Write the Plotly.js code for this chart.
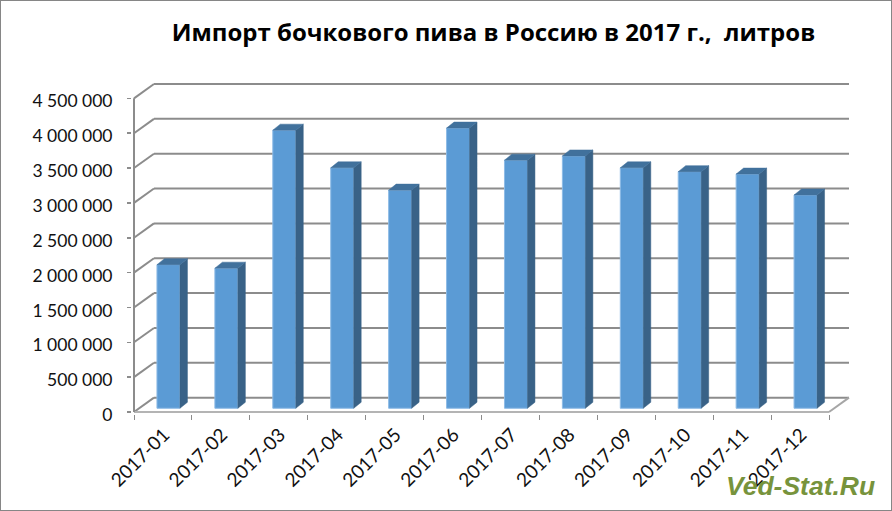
<!DOCTYPE html>
<html><head><meta charset="utf-8">
<script src="https://cdn.plot.ly/plotly-3.0.1.min.js"></script>
<style>html,body{margin:0;padding:0;background:#fff}#c{width:892px;height:511px;position:relative}
#b{position:absolute;left:0;top:0;width:892px;height:511px;box-sizing:border-box;border:1.5px solid #868686;pointer-events:none}</style>
</head><body><div id="c"></div><div id="b"></div>
<script>
const months = ['2017-01','2017-02','2017-03','2017-04','2017-05','2017-06','2017-07','2017-08','2017-09','2017-10','2017-11','2017-12'];
const litres = [2060000,2010000,3990000,3450000,3130000,4020000,3560000,3620000,3450000,3395000,3360000,3060000];
const yTicks = [0,500000,1000000,1500000,2000000,2500000,3000000,3500000,4000000,4500000];
const yLabels = ['0','500 000','1 000 000','1 500 000','2 000 000','2 500 000','3 000 000','3 500 000','4 000 000','4 500 000'];

// projection of the pseudo-3D box, in axis units
const L=133.5,R=829,BACK=20,T=99.3,B=412,PAD=2;
const xUnit=(R-L)/12, yUnit=(B-T)/4500000;
const wallDx=BACK/xUnit, wallDy=14.3/yUnit;
const barW=23/xUnit, barOff=-6/xUnit, barBase=3.7/yUnit, depthX=7.5/xUnit, depthY=6/yUnit;
const x0=-0.5, x1=11.5;

const idx=months.map((_,i)=>i);
const front={type:'bar',x:idx,y:litres,base:idx.map(()=>barBase),width:barW,offset:barOff,
  marker:{color:'#5b9bd5',line:{color:'#8dbbe6',width:1}},hoverinfo:'skip'};
let sx=[],sy=[],tx=[],ty=[];
litres.forEach((v,i)=>{
  const a=i+barOff,b=a+barW,top=barBase+v;
  sx.push(b,b+depthX,b+depthX,b,b,null); sy.push(barBase,barBase+depthY,top+depthY,top,barBase,null);
  tx.push(a,a+depthX,b+depthX,b,a,null); ty.push(top,top+depthY,top+depthY,top,top,null);
});
const side={type:'scatter',mode:'lines',x:sx,y:sy,fill:'toself',fillcolor:'#396287',line:{color:'#396287',width:0.5},hoverinfo:'skip'};
const topf={type:'scatter',mode:'lines',x:tx,y:ty,fill:'toself',fillcolor:'#41719c',line:{color:'#41719c',width:0.5},hoverinfo:'skip'};

const grid=(xa,ya,xb,yb,col)=>({type:'line',layer:'below',xref:'x',yref:'y',x0:xa,y0:ya,x1:xb,y1:yb,line:{color:col||'#8c8c8c',width:2}});
const shapes=[];
yTicks.forEach(v=>{
  shapes.push(grid(x0,v,x0+wallDx,v+wallDy));
  shapes.push(grid(x0+wallDx,v+wallDy,x1+wallDx,v+wallDy));
});
shapes.push(grid(x0,0,x1,0,'#b4b4b4'));
shapes.push(grid(x1,0,x1+wallDx,wallDy,'#a6a6a6'));
shapes.push(grid(x0,0,x0,yTicks[yTicks.length-1]));

const tfont='"Open Sans", sans-serif', font='Lato, "Open Sans", sans-serif';
const layout={
  width:892,height:511,margin:{l:L-PAD,r:892-(R+BACK)-PAD,t:84.3-PAD,b:511-B-PAD,pad:0},
  paper_bgcolor:'#fff',plot_bgcolor:'rgba(0,0,0,0)',showlegend:false,
  title:{text:'Импорт бочкового пива в Россию в 2017 г.,\u00a0\u00a0литров',font:{family:tfont,size:24,color:'#000',weight:700},
    xref:'container',yref:'container',x:493.5/892,y:1-33/511,xanchor:'center',yanchor:'middle'},
  xaxis:{type:'linear',range:[x0-PAD/xUnit,x1+wallDx+PAD/xUnit],tickmode:'array',tickvals:idx,ticktext:months,tickangle:-45,
    ticks:'',ticklen:0,ticklabelstandoff:5,ticklabelshift:1,showgrid:false,zeroline:false,showline:false,automargin:false,
    tickfont:{family:font,size:19,color:'#111'},
    minor:{tickmode:'array',tickvals:idx.map(i=>i-0.5).concat([x1]),ticks:'outside',ticklen:5,tickwidth:1,tickcolor:'#8c8c8c',showgrid:false}},
  yaxis:{range:[-PAD/yUnit,wallDy+4500000+PAD/yUnit],tickmode:'array',tickvals:yTicks,ticktext:yLabels,ticks:'outside',ticklen:4,tickwidth:1.5,tickcolor:'#8c8c8c',
    ticklabelstandoff:11,ticklabelshift:3,showgrid:false,zeroline:false,showline:false,automargin:false,tickfont:{family:font,size:17.5,color:'#111'}},
  shapes:shapes,
  annotations:[{text:'Ved-Stat.Ru',xref:'paper',yref:'paper',x:(800.5-(L-PAD))/(R+BACK-L+2*PAD),y:(B+PAD-486)/(B-84.3+2*PAD),xanchor:'center',yanchor:'middle',showarrow:false,
    font:{family:'"Liberation Sans", sans-serif',size:26.5,color:'#77933c',weight:700,style:'italic'}}]
};
Plotly.newPlot('c',[front,side,topf],layout,{staticPlot:true,displayModeBar:false});
</script></body></html>
